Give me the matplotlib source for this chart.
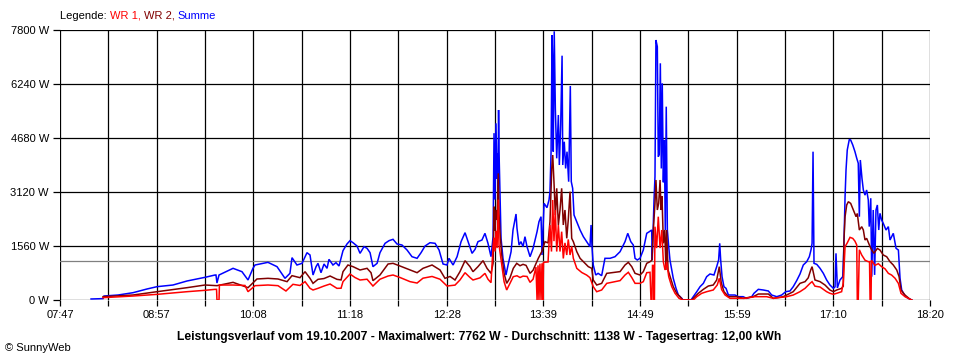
import matplotlib
matplotlib.use("Agg")
import matplotlib.pyplot as plt

# ---------------- data (time = minutes after midnight, power in W) ----------------
x_labels = ["07:47", "08:57", "10:08", "11:18", "12:28", "13:39", "14:49", "15:59", "17:10", "18:20"]
t_start, t_end = 467, 1100
y_ticks = [0, 1560, 3120, 4680, 6240, 7800]
average_w = 1138

legend_parts = [("Legende: ", "#000000"), ("WR 1, ", "#FF0000"), ("WR 2, ", "#800000"), ("Summe", "#0000FF")]
title = "Leistungsverlauf vom 19.10.2007 - Maximalwert: 7762 W - Durchschnitt: 1138 W - Tagesertrag: 12,00 kWh"
credit = "\u00a9 SunnyWeb"

sum_t = [489.6, 490.3, 498.3, 499.0, 509.2, 520.1, 530.3, 537.6, 549.2, 559.4, 566.7, 572.5, 579.8, 580.5, 581.2,
         582.7, 592.9, 599.4, 603.8, 607.4, 608.9, 618.3, 624.9, 630.7, 634.3, 635.8, 639.4, 643.1, 646.7, 648.9,
         651.1, 653.3, 654.7, 656.9, 659.1, 661.3, 662.7, 665.6, 667.8, 670.0, 672.9, 675.8, 678.0, 680.2, 683.1,
         685.3, 688.2, 690.4, 692.6, 694.7, 697.7, 699.8, 703.5, 706.4, 709.3, 712.2, 715.8, 719.5, 723.1, 726.8,
         729.7, 732.6, 736.2, 739.9, 742.8, 745.7, 748.6, 750.0, 753.0, 755.9, 758.8, 761.7, 763.9, 766.8, 769.0,
         771.1, 774.0, 776.2, 778.4, 780.6, 782.1,
         782.8, 783.5, 784.2, 785.0, 785.3, 785.7, 786.1, 786.4, 787.1, 787.9, 789.3, 791.5, 793.0, 795.2, 796.6,
         798.8, 799.5, 801.0, 802.4, 803.9, 805.3, 806.8, 809.0, 811.2, 814.1, 815.5, 817.0, 817.7, 819.2, 821.3,
         822.8, 823.5, 824.3, 825.0, 825.5, 825.9, 826.6, 827.4, 828.4, 829.6, 830.3, 831.3, 832.3, 832.8, 833.9,
         834.9, 835.9, 837.1, 838.3, 839.0, 840.0, 841.0, 843.0, 845.4, 847.8, 850.2, 852.6, 853.4, 854.1, 855.0,
         856.8, 858.5, 861.1, 863.5, 867.2, 870.8, 874.5, 878.1, 880.1, 882.3, 884.1, 885.4, 887.0, 889.0, 891.4,
         893.9, 895.8, 897.5, 897.9, 899.2, 899.9, 900.6, 901.6, 902.3, 903.0, 903.8, 904.5, 905.2, 906.0, 906.7,
         907.4, 908.1, 908.9, 909.9, 910.8, 912.1, 913.2, 915.2, 916.9, 919.4, 920.3, 926.1, 927.8, 930.3, 932.7,
         935.1, 937.5, 939.9, 942.8, 944.8, 946.2, 947.0, 947.7, 948.7, 950.1, 951.6, 953.3, 958.1, 960.5, 964.0,
         966.6, 970.3, 971.9, 975.1, 978.7, 982.4, 984.8, 988.5, 992.1, 995.0, 998.1, 1000.5, 1003.0, 1005.4,
         1007.8, 1010.3, 1012.2, 1013.4, 1014.2, 1014.9, 1015.6, 1017.6, 1020.0, 1022.4, 1024.8, 1027.2, 1029.7,
         1030.9, 1031.6, 1032.6, 1034.5, 1036.5, 1037.4, 1038.2, 1038.9, 1039.8, 1041.3, 1042.3, 1043.8, 1045.4,
         1046.7, 1047.8, 1048.6, 1049.3, 1050.5, 1051.5, 1052.7, 1053.9, 1055.1, 1055.8, 1056.9, 1057.6, 1058.7,
         1059.7, 1060.7, 1061.7, 1062.7, 1063.6, 1064.8, 1066.0, 1068.0, 1069.7, 1070.9, 1073.3, 1075.3, 1077.0,
         1078.2, 1079.4, 1081.8, 1084.2, 1086.7]
sum_w = [30, 30, 40, 115, 144, 211, 318, 385, 433, 549, 607, 655, 722, 722, 491,
         722, 915, 818, 578, 915, 1011, 1088, 963, 626, 770, 1223, 1011, 1059, 1367, 1300,
         722, 963, 1059, 789, 1040, 915, 1175, 1011, 1079, 982, 1425, 1618, 1714, 1655, 1560,
         1348, 1541, 1493, 1367, 963, 1059, 1367, 1637, 1714, 1753, 1618, 1589, 1444, 1251, 1204,
         1367, 1560, 1655, 1637, 1444, 1040, 1011, 1204, 1011, 1251, 1685, 1945, 1685, 1348, 1464,
         1685, 1733, 1926, 1637, 1251, 1829,
         4820, 2900, 5104, 3500, 4246, 3000, 5489, 4333, 3129, 1782, 1204, 722, 1011, 1396, 2022,
         2484, 2071, 1589, 1685, 1540, 1829, 1540, 1251, 1493, 1974, 2262, 2407, 1300, 2793, 2667,
         2889, 3129, 4285, 7655, 6789, 4285, 7762, 5537, 4093, 5344, 3900, 5055, 7058, 3900, 4573,
         3800, 4285, 3418, 6182, 3418, 3226, 2455, 2262, 2022, 1829, 1685, 1541, 2167, 1520, 1011,
         722, 770, 703, 1204, 1204, 1251, 1396, 1685, 1926, 1685, 1589, 1204, 1156, 1204, 1444,
         1926, 1974, 2022, 1156, 2889, 3562, 7511, 7318, 4140, 4200, 6838, 3800, 6260, 3400, 4622,
         2022, 5585, 2022, 1541, 1156, 867, 626, 337, 144, 48, 0, 0, 96, 240, 385,
         481, 674, 751, 722, 963, 1156, 1637, 1156, 674, 385, 337, 144, 144, 96, 96,
         48, 96, 193, 308, 289, 260, 144, 96, 144, 240, 260, 385, 560, 750,
         1011, 1107, 1251, 1444, 1637, 4285, 1059, 1030, 915, 770, 578, 433, 337,
         380, 1348, 350, 578, 674, 1637, 2985, 3756, 4333, 4641, 4620, 4478, 4285,
         4093, 3950, 2407, 4044, 3515, 3178, 3030, 3178, 2889, 2120, 2940, 674, 2600,
         725, 2600, 2745, 2022, 2504, 2311, 2215, 2022, 2120, 1733, 1926, 1493, 1444,
         626, 289, 116, 48, 0]

wr2_t = [498.3, 509.2, 520.1, 537.6, 559.4, 572.5, 581.2, 592.9, 603.8, 610.3, 618.3, 625.6, 632.2, 635.8, 641.6,
         645.3, 648.9, 651.1, 654.7, 659.1, 663.5, 668.5, 671.5, 672.9, 676.5, 680.2, 685.3, 690.4, 693.3, 694.7,
         699.8, 705.7, 709.3, 714.4, 721.7, 726.8, 731.1, 737.7, 743.5, 747.1, 750.8, 754.4, 758.0, 761.7, 765.3,
         767.5, 771.1, 774.8, 777.7, 780.6, 782.1,
         782.8, 783.5, 784.2, 785.0, 785.9, 786.4, 787.1, 788.4, 790.1, 792.0, 794.4, 796.8, 799.3, 801.7, 803.9,
         806.1, 809.0, 811.2, 815.0, 817.5, 819.9, 822.1, 823.5, 824.8, 825.5, 826.4, 827.4, 828.4, 829.6, 830.8,
         832.0, 833.2, 834.4, 835.7, 836.8, 838.1, 839.3, 840.5, 843.0, 845.4, 849.0, 851.4, 853.9, 855.0, 857.5,
         861.1, 864.8, 870.8, 874.5, 878.1, 880.5, 883.0, 885.4, 889.0, 891.4, 893.9, 896.3, 897.7, 898.7, 899.9,
         900.6, 901.6, 902.6, 903.6, 904.3, 905.0, 906.0, 907.0, 907.9, 908.4, 909.4, 911.3, 913.2, 915.7, 918.1,
         920.1, 926.6, 929.0, 931.4, 935.1, 938.7, 942.3, 944.8, 946.7, 948.1, 950.1, 953.3, 959.4, 964.2, 971.4,
         975.1, 982.4, 986.0, 993.2, 995.7, 1000.5, 1005.4, 1009.1, 1011.4, 1013.2, 1014.2, 1015.1, 1016.3,
         1020.0, 1023.6, 1027.2, 1029.7, 1032.1, 1035.7, 1036.9, 1037.4, 1038.2, 1039.4, 1040.6, 1042.3, 1044.2,
         1046.2, 1047.1, 1048.6, 1050.3, 1051.5, 1052.7, 1053.9, 1056.4, 1057.6, 1059.2, 1061.7, 1063.6, 1066.0,
         1068.5, 1070.9, 1073.3, 1075.8, 1077.5, 1078.9, 1081.8, 1085.5, 1086.7]
wr2_w = [96, 120, 144, 240, 356, 433, 414, 510, 356, 607, 626, 607, 530, 703, 645,
         818, 626, 481, 597, 620, 693, 597, 580, 818, 1011, 963, 867, 915, 789, 558,
         722, 1040, 1059, 982, 867, 789, 915, 1011, 867, 626, 680, 578, 818, 1136, 963,
         818, 963, 1136, 915, 770, 1059,
         2696, 2000, 2600, 2311, 3659, 2500, 1974, 1300, 770, 481, 640, 915, 1059, 990, 1030,
         1000, 770, 860, 1204, 1396, 1685, 1650, 2262, 3804, 4188, 3418, 2455, 3226, 2167, 2600,
         3226, 2167, 2600, 1782, 2311, 3129, 1782, 1685, 1396, 1204, 1060, 963, 915, 578, 433,
         480, 770, 800, 820, 1011, 1088, 963, 770, 722, 818, 1059, 1107, 1150, 2022, 2793,
         3467, 2600, 2793, 3467, 2600, 3000, 1637, 2022, 867, 2022, 867, 626, 385, 193, 96,
         0, 0, 96, 193, 308, 404, 433, 578, 963, 500, 240, 96, 96, 48, 96,
         173, 173, 48, 96, 144, 240, 481, 530, 640, 867, 963, 800, 578,
         530, 433, 289, 240, 289, 337, 400, 1733, 2407, 2745, 2840, 2790, 2600,
         2407, 2500, 2022, 2118, 2022, 1733, 1782, 1540, 1444, 1350, 1490, 1444, 1300,
         1250, 1107, 1010, 867, 675, 289, 144, 20, 0]

wr1_t = [498.3, 509.2, 520.1, 537.6, 559.4, 572.5, 579.8, 580.9, 581.2, 582.7, 583.0, 592.9, 601.6, 603.8, 608.9,
         618.3, 625.6, 631.4, 636.5, 641.6, 645.3, 648.9, 651.1, 654.7, 659.1, 663.5, 668.5, 671.5, 672.9, 678.0,
         681.6, 685.3, 690.4, 694.7, 699.8, 705.7, 709.3, 714.4, 721.7, 726.8, 731.1, 737.7, 743.5, 748.6, 754.4,
         758.0, 761.7, 765.3, 767.5, 772.6, 776.2, 778.4, 780.6, 782.1,
         782.8, 783.5, 784.2, 785.0, 785.9, 786.4, 787.1, 788.4, 790.1, 792.0, 794.4, 796.8, 799.5, 801.7, 803.9,
         806.8, 809.0, 811.2, 813.3, 814.1, 814.8, 815.5, 816.2, 817.0, 817.7, 818.4, 818.8, 822.1, 823.5, 824.6,
         825.5, 826.4, 827.4, 828.4, 829.6, 830.8, 832.0, 833.2, 834.4, 835.7, 836.8, 838.1, 839.3, 840.5, 843.0,
         846.6, 850.2, 852.6, 855.0, 857.5, 861.1, 864.8, 870.8, 874.5, 878.1, 880.5, 883.0, 885.4, 889.0, 891.4,
         893.9, 896.3, 897.0, 897.7, 898.1, 898.8, 899.2, 899.5, 899.9, 901.1, 902.3, 903.6, 904.8, 906.0, 907.2,
         908.4, 909.9, 912.1, 914.5, 917.4, 920.1, 927.8, 930.3, 933.9, 937.5, 942.3, 945.2, 946.7, 948.4, 950.9,
         954.5, 965.4, 972.7, 981.2, 986.0, 995.7, 1000.5, 1005.4, 1009.1, 1012.7, 1014.2, 1016.3, 1020.0, 1024.8,
         1027.2, 1029.7, 1032.1, 1035.7, 1036.9, 1038.2, 1039.8, 1041.8, 1043.8, 1045.4, 1046.7, 1047.1, 1047.8,
         1048.6, 1050.3, 1052.7, 1055.1, 1056.0, 1056.4, 1057.1, 1057.4, 1059.9, 1062.4, 1064.8, 1067.3, 1069.7,
         1072.1, 1074.6, 1077.0, 1078.9, 1081.8, 1086.7]
wr1_w = [67, 90, 115, 163, 240, 280, 308, 308, 0, 0, 433, 433, 420, 240, 414,
         433, 414, 260, 453, 420, 530, 337, 289, 337, 404, 462, 337, 340, 530, 751,
         650, 578, 600, 404, 600, 693, 722, 650, 530, 490, 630, 680, 600, 404, 430,
         578, 789, 650, 578, 640, 770, 600, 501, 1541,
         1800, 1400, 2000, 1500, 2900, 1600, 1396, 1011, 530, 289, 480, 674, 700, 650, 690,
         680, 510, 600, 950, 0, 1000, 0, 1050, 0, 1060, 0, 1088, 1100, 2167, 1400,
         2889, 1700, 2600, 1400, 2167, 1400, 1974, 1200, 1650, 1300, 1750, 1300, 1550, 1204, 915,
         795, 720, 645, 385, 240, 289, 481, 530, 560, 722, 800, 650, 481, 481, 530,
         789, 800, 0, 0, 1000, 1000, 0, 0, 2118, 1500, 2407, 1500, 2022, 1100, 867,
         1100, 674, 385, 193, 48, 0, 0, 96, 193, 240, 289, 433, 626, 300, 144,
         48, 48, 96, 96, 48, 96, 144, 240, 337, 481, 530, 400, 375, 240,
         193, 165, 193, 240, 500, 1541, 1650, 1810, 1780, 1700, 1589, 0, 0,
         1450, 1300, 1150, 1107, 1107, 0, 0, 1150, 1000, 1050, 963, 900, 770,
         720, 626, 480, 193, 96, 0]

# ---------------- figure ----------------
plt.rcParams['font.family'] = ['Liberation Sans', 'DejaVu Sans']
fig = plt.figure(figsize=(9.6, 3.6), dpi=100, facecolor="white")
ax = fig.add_axes([60 / 960, 60 / 360, 870 / 960, 270 / 360])
ax.set_facecolor("white")

n_div = 2 * (len(x_labels) - 1)
grid_x = [t_start + k * (t_end - t_start) / n_div for k in range(n_div + 1)]
label_x = grid_x[::2]

for gx in grid_x:
    ax.axvline(gx, color="black", lw=0.9, zorder=1)
for gy in y_ticks:
    ax.axhline(gy, color="black", lw=0.9, zorder=1)
ax.axhline(average_w, color="#808080", lw=0.9, zorder=2)

ax.plot(sum_t, sum_w, color="#0000FF", lw=1.1, zorder=3, solid_joinstyle="miter")
ax.plot(wr2_t, wr2_w, color="#800000", lw=1.1, zorder=4, solid_joinstyle="miter")
ax.plot(wr1_t, wr1_w, color="#FF0000", lw=1.1, zorder=5, solid_joinstyle="miter")

ax.set_xlim(t_start, t_end)
ax.set_ylim(0, y_ticks[-1])
ax.set_xticks(grid_x, minor=True)
ax.set_xticks(label_x)
ax.set_xticklabels(x_labels, fontsize=8)
ax.set_yticks(y_ticks)
ax.set_yticklabels([f"{v} W" for v in y_ticks], fontsize=8)
ax.tick_params(axis="x", which="both", length=4, width=0.9, direction="out", pad=3, colors="black")
ax.tick_params(axis="y", length=5, width=0.9, direction="out", pad=3)
for s in ax.spines.values():
    s.set_visible(False)

# legend line (multi-colored text)
fig.canvas.draw()
renderer = fig.canvas.get_renderer()
x_px = 60
for txt, col in legend_parts:
    t = fig.text(x_px / 960, 1 - 16 / 360, txt, color=col, fontsize=8, va="center", ha="left")
    bb = t.get_window_extent(renderer=renderer)
    x_px += bb.width

fig.text(479 / 960, 1 - 337 / 360, title, fontsize=8.75, fontweight="bold", ha="center", va="center")
fig.text(5 / 960, 1 - 348 / 360, credit, fontsize=8, ha="left", va="center")

fig.savefig("out.png", dpi=100, facecolor="white")
